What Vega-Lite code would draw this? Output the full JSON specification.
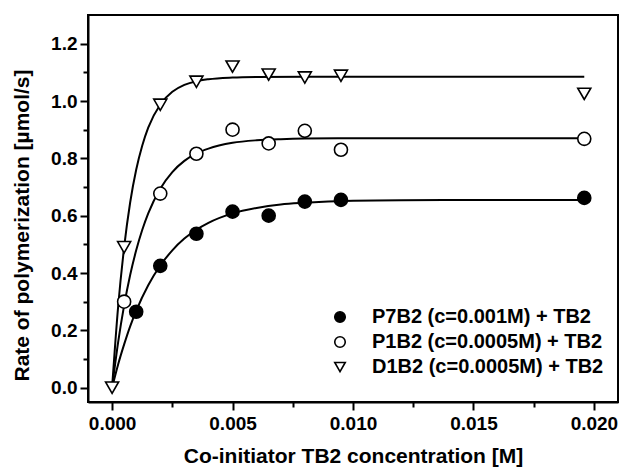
{
  "$schema": "https://vega.github.io/schema/vega-lite/v6.json",
  "width": 530,
  "height": 387,
  "autosize": "none",
  "padding": {"left": 88, "top": 15, "right": 2, "bottom": 65},
  "background": "white",
  "config": {
    "view": {"stroke": "black", "strokeWidth": 2},
    "font": "Liberation Sans",
    "axis": {
      "domainColor": "black", "domainWidth": 2, "tickColor": "black", "tickWidth": 2,
      "labelColor": "black", "titleColor": "black", "labelFont": "Liberation Sans",
      "labelFontWeight": "bold", "labelFontSize": 19, "titleFont": "Liberation Sans",
      "titleFontWeight": "bold", "titleFontSize": 21, "grid": false
    },
    "legend": {
      "orient": "none", "legendX": 242, "legendY": 292,
      "labelFont": "Liberation Sans", "labelFontWeight": "bold", "labelFontSize": 20, "labelColor": "black",
      "labelLimit": 500,
      "symbolSize": 110, "symbolStrokeColor": "black", "symbolStrokeWidth": 1.6,
      "rowPadding": 5, "labelOffset": 22, "symbolOpacity": 1
    }
  },
  "datasets": {
    "points": [
      {"series": "D1B2 (c=0.0005M) + TB2", "x": 0, "y": 0},
      {"series": "D1B2 (c=0.0005M) + TB2", "x": 0.0005, "y": 0.49},
      {"series": "D1B2 (c=0.0005M) + TB2", "x": 0.002, "y": 0.987},
      {"series": "D1B2 (c=0.0005M) + TB2", "x": 0.0035, "y": 1.067},
      {"series": "D1B2 (c=0.0005M) + TB2", "x": 0.005, "y": 1.12},
      {"series": "D1B2 (c=0.0005M) + TB2", "x": 0.0065, "y": 1.092},
      {"series": "D1B2 (c=0.0005M) + TB2", "x": 0.008, "y": 1.082},
      {"series": "D1B2 (c=0.0005M) + TB2", "x": 0.0095, "y": 1.088},
      {"series": "D1B2 (c=0.0005M) + TB2", "x": 0.0196, "y": 1.025},
      {"series": "P1B2 (c=0.0005M) + TB2", "x": 0.0005, "y": 0.30},
      {"series": "P1B2 (c=0.0005M) + TB2", "x": 0.002, "y": 0.677},
      {"series": "P1B2 (c=0.0005M) + TB2", "x": 0.0035, "y": 0.816},
      {"series": "P1B2 (c=0.0005M) + TB2", "x": 0.005, "y": 0.90},
      {"series": "P1B2 (c=0.0005M) + TB2", "x": 0.0065, "y": 0.852},
      {"series": "P1B2 (c=0.0005M) + TB2", "x": 0.008, "y": 0.896},
      {"series": "P1B2 (c=0.0005M) + TB2", "x": 0.0095, "y": 0.83},
      {"series": "P1B2 (c=0.0005M) + TB2", "x": 0.0196, "y": 0.868},
      {"series": "P7B2 (c=0.001M) + TB2", "x": 0.001, "y": 0.265},
      {"series": "P7B2 (c=0.001M) + TB2", "x": 0.002, "y": 0.425},
      {"series": "P7B2 (c=0.001M) + TB2", "x": 0.0035, "y": 0.537},
      {"series": "P7B2 (c=0.001M) + TB2", "x": 0.005, "y": 0.614},
      {"series": "P7B2 (c=0.001M) + TB2", "x": 0.0065, "y": 0.60},
      {"series": "P7B2 (c=0.001M) + TB2", "x": 0.008, "y": 0.649},
      {"series": "P7B2 (c=0.001M) + TB2", "x": 0.0095, "y": 0.655},
      {"series": "P7B2 (c=0.001M) + TB2", "x": 0.0196, "y": 0.662}
    ],
    "curves": [
      {"series": "D1B2", "x": 0, "y": 0},
      {"series": "D1B2", "x": 0.00025, "y": 0.282},
      {"series": "D1B2", "x": 0.0005, "y": 0.49},
      {"series": "D1B2", "x": 0.00075, "y": 0.646},
      {"series": "D1B2", "x": 0.001, "y": 0.76},
      {"series": "D1B2", "x": 0.00125, "y": 0.844},
      {"series": "D1B2", "x": 0.0015, "y": 0.907},
      {"series": "D1B2", "x": 0.002, "y": 0.988},
      {"series": "D1B2", "x": 0.0025, "y": 1.032},
      {"series": "D1B2", "x": 0.003, "y": 1.056},
      {"series": "D1B2", "x": 0.0035, "y": 1.069},
      {"series": "D1B2", "x": 0.004, "y": 1.076},
      {"series": "D1B2", "x": 0.005, "y": 1.082},
      {"series": "D1B2", "x": 0.006, "y": 1.084},
      {"series": "D1B2", "x": 0.008, "y": 1.085},
      {"series": "D1B2", "x": 0.0196, "y": 1.085},
      {"series": "P1B2", "x": 0, "y": 0},
      {"series": "P1B2", "x": 0.00025, "y": 0.158},
      {"series": "P1B2", "x": 0.0005, "y": 0.287},
      {"series": "P1B2", "x": 0.00075, "y": 0.393},
      {"series": "P1B2", "x": 0.001, "y": 0.479},
      {"series": "P1B2", "x": 0.00125, "y": 0.55},
      {"series": "P1B2", "x": 0.0015, "y": 0.608},
      {"series": "P1B2", "x": 0.002, "y": 0.694},
      {"series": "P1B2", "x": 0.0025, "y": 0.752},
      {"series": "P1B2", "x": 0.003, "y": 0.791},
      {"series": "P1B2", "x": 0.0035, "y": 0.817},
      {"series": "P1B2", "x": 0.004, "y": 0.834},
      {"series": "P1B2", "x": 0.005, "y": 0.854},
      {"series": "P1B2", "x": 0.006, "y": 0.863},
      {"series": "P1B2", "x": 0.007, "y": 0.867},
      {"series": "P1B2", "x": 0.008, "y": 0.869},
      {"series": "P1B2", "x": 0.01, "y": 0.87},
      {"series": "P1B2", "x": 0.0196, "y": 0.87},
      {"series": "P7B2", "x": 0, "y": 0},
      {"series": "P7B2", "x": 0.00025, "y": 0.081},
      {"series": "P7B2", "x": 0.0005, "y": 0.151},
      {"series": "P7B2", "x": 0.00075, "y": 0.214},
      {"series": "P7B2", "x": 0.001, "y": 0.268},
      {"series": "P7B2", "x": 0.0015, "y": 0.357},
      {"series": "P7B2", "x": 0.002, "y": 0.426},
      {"series": "P7B2", "x": 0.0025, "y": 0.479},
      {"series": "P7B2", "x": 0.003, "y": 0.52},
      {"series": "P7B2", "x": 0.0035, "y": 0.551},
      {"series": "P7B2", "x": 0.004, "y": 0.575},
      {"series": "P7B2", "x": 0.005, "y": 0.608},
      {"series": "P7B2", "x": 0.006, "y": 0.627},
      {"series": "P7B2", "x": 0.007, "y": 0.639},
      {"series": "P7B2", "x": 0.008, "y": 0.645},
      {"series": "P7B2", "x": 0.01, "y": 0.652},
      {"series": "P7B2", "x": 0.012, "y": 0.654},
      {"series": "P7B2", "x": 0.0196, "y": 0.655}
    ]
  },
  "layer": [
    {
      "data": {"name": "curves"},
      "mark": {"type": "line", "color": "black", "strokeWidth": 2, "interpolate": "monotone"},
      "encoding": {
        "x": {"field": "x", "type": "quantitative",
          "scale": {"domain": [-0.001, 0.021], "nice": false, "zero": false},
          "axis": {"orient": "bottom", "values": [0, 0.005, 0.01, 0.015, 0.02], "format": ".3f",
            "tickSize": 8, "labelPadding": 4, "title": "Co-initiator TB2 concentration [M]", "titlePadding": 12, "labelFlush": false}},
        "y": {"field": "y", "type": "quantitative",
          "scale": {"domain": [-0.05, 1.3], "nice": false, "zero": false},
          "axis": {"orient": "left", "values": [0, 0.2, 0.4, 0.6, 0.8, 1.0, 1.2], "format": ".1f",
            "tickSize": 8, "labelPadding": 3, "title": "Rate of polymerization [µmol/s]", "titlePadding": 18, "titleY": 210, "labelFlush": false}},
        "detail": {"field": "series"}
      }
    },
    {
      "data": {"name": "points"},
      "mark": {"type": "point", "filled": true, "stroke": "black", "strokeWidth": 1.6, "size": 170, "opacity": 1},
      "encoding": {
        "x": {"field": "x", "type": "quantitative", "axis": null},
        "y": {"field": "y", "type": "quantitative", "axis": null},
        "shape": {"field": "series", "type": "nominal",
          "scale": {"domain": ["P7B2 (c=0.001M) + TB2", "P1B2 (c=0.0005M) + TB2", "D1B2 (c=0.0005M) + TB2"], "range": ["circle", "circle", "triangle-down"]},
          "legend": {"title": null, "symbolStrokeColor": "black", "encode": {"symbols": {"update": {"stroke": {"value": "black"}, "strokeWidth": {"value": 1.6}}}}}},
        "fill": {"field": "series", "type": "nominal",
          "scale": {"domain": ["P7B2 (c=0.001M) + TB2", "P1B2 (c=0.0005M) + TB2", "D1B2 (c=0.0005M) + TB2"], "range": ["black", "white", "white"]},
          "legend": {"title": null, "symbolStrokeColor": "black", "encode": {"symbols": {"update": {"stroke": {"value": "black"}, "strokeWidth": {"value": 1.6}}}}}}
      }
    },
    {
      "data": {"name": "points"},
      "mark": {"type": "point", "opacity": 0},
      "encoding": {
        "x": {"field": "x", "type": "quantitative",
          "axis": {"orient": "bottom", "values": [0.0025, 0.0075, 0.0125, 0.0175], "labels": false, "domain": false, "tickSize": 5, "title": null}},
        "y": {"field": "y", "type": "quantitative",
          "axis": {"orient": "left", "values": [0.1, 0.3, 0.5, 0.7, 0.9, 1.1], "labels": false, "domain": false, "tickSize": 5, "title": null}}
      }
    }
  ],
  "resolve": {"axis": {"x": "independent", "y": "independent"}}
}
